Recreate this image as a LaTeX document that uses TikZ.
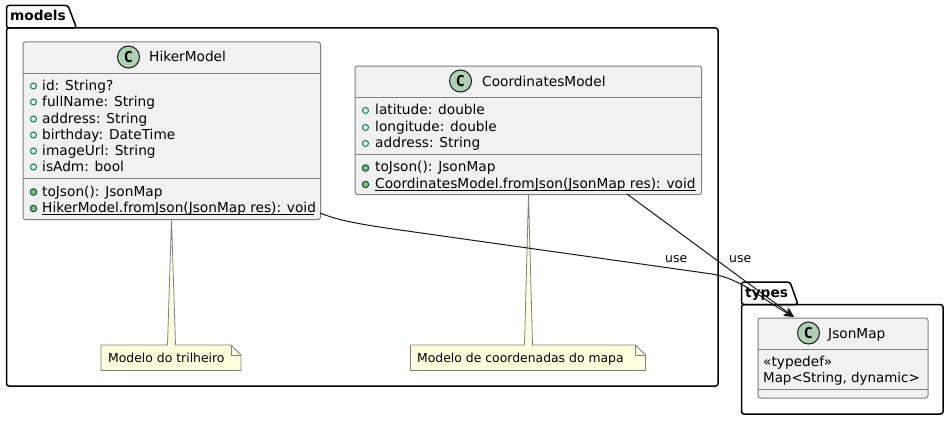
\documentclass[tikz,border=0pt]{standalone}
\usepackage{fontspec}
\setmainfont{DejaVu Sans}
\newfontfamily\spotfont{DejaVu Sans Mono}
\usetikzlibrary{arrows.meta}
\definecolor{boxfill}{HTML}{F1F1F1}
\definecolor{boxline}{HTML}{7F7F7F}
\definecolor{ink}{HTML}{181818}
\definecolor{notefill}{HTML}{FEFFDD}
\definecolor{spotfill}{HTML}{ADD1B2}
\definecolor{fieldc}{HTML}{038048}
\definecolor{methodc}{HTML}{84BE84}
\tikzset{
  x=1pt,y=-1pt,
  pkg/.style={draw=black,line width=1.5pt,rounded corners=2.5pt,line join=round},
  classbox/.style={draw=boxline,fill=boxfill,line width=1pt,rounded corners=2.5pt,inner sep=0pt,anchor=north west},
  sepline/.style={draw=boxline,line width=1pt},
  member/.style={inner sep=0pt,anchor=base west,font=\fontsize{13.7}{16}\selectfont,text=black},
  titletxt/.style={member},
  pkgtxt/.style={inner sep=0pt,anchor=base west,font=\fontsize{13.7}{16}\selectfont\bfseries},
  edgetxt/.style={inner sep=0pt,anchor=base west,font=\fontsize{12.4}{14}\selectfont},
  notetxt/.style={inner sep=0pt,anchor=base west,font=\fontsize{12.4}{14}\selectfont},
  spot/.style={circle,draw=ink,fill=spotfill,line width=1pt,minimum size=22pt,inner sep=0pt,font=\fontsize{15}{15}\selectfont\spotfont\bfseries},
  fieldmark/.style={circle,draw=fieldc,line width=1pt,minimum size=6pt,inner sep=0pt},
  methodmark/.style={circle,draw=fieldc!70!black,fill=methodc,line width=1pt,minimum size=6.5pt,inner sep=0pt},
  notebody/.style={draw=boxline,fill=notefill,line width=.8pt,line join=miter},
  rel/.style={draw=ink,line width=1pt,-{Stealth[length=10pt,width=9pt,inset=3pt]}},
}
\begin{document}
\begin{tikzpicture}
\useasboundingbox (0,0) rectangle (949,420);
\fill[white] (0,0) rectangle (949,420);
% packages
\draw[pkg] (6.5,28) -- (6.5,5.5) -- (68,5.5) -- (76.5,28) -- cycle;
\draw[pkg] (6.5,28) -- (718,28) -- (718,386) -- (6.5,386) -- cycle;
\node[pkgtxt] (pm) at (10,21) {models};
\draw[pkg] (741.5,304.5) -- (741.5,282) -- (790,282) -- (798,304.5) -- cycle;
\draw[pkg] (741.5,304.5) -- (943,304.5) -- (943,414) -- (741.5,414) -- cycle;
\node[pkgtxt] (pt) at (745,297) {types};
% notes
\draw[notebody] (101,345) -- (167.5,345) -- (171.5,219) -- (175.5,345) -- (231,345) -- (241,355) -- (241,370.5) -- (101,370.5) -- cycle;
\draw[notebody,fill=none] (231,345) -- (231,355) -- (241,355);
\node[notetxt] (n1) at (108,362) {Modelo do trilheiro};
\draw[notebody] (410.5,345) -- (524.5,345) -- (528.5,194) -- (532.5,345) -- (635.5,345) -- (645.5,355) -- (645.5,370.5) -- (410.5,370.5) -- cycle;
\draw[notebody,fill=none] (635.5,345) -- (635.5,355) -- (645.5,355);
\node[notetxt] (n2) at (417,362) {Modelo de coordenadas do mapa};
% HikerModel
\node[classbox,minimum width=297.5pt,minimum height=177.5pt] (hiker) at (22.5,41.5) {};
\draw[sepline] (22.5,73.5) -- (320,73.5) (22.5,178.5) -- (320,178.5);
\node[spot] (hc) at (128.5,57) {C};
\node[titletxt] (ht) at (149,62) {HikerModel};
\foreach \nm/\yy/\tx in {a/90/{id: String?},b/106/{fullName: String},c/123/{address: String},d/139/{birthday: DateTime},e/155/{imageUrl: String},f/171/{isAdm: bool}}{
  \node[fieldmark] (hm\nm) at (33.5,\yy-4) {};
  \node[member] (hf\nm) at (42,\yy) {\tx};
}
\node[methodmark] (hmg) at (33.5,192) {};
\node[member] (hfg) at (42,196) {toJson(): JsonMap};
\node[methodmark] (hmh) at (33.5,208.5) {};
\node[member] (hfh) at (42,212) {HikerModel.fromJson(JsonMap res): void};
\draw[black,line width=1pt] (hfh.base west)+(0,2.5) -- ++(272,2.5);
% CoordinatesModel
\node[classbox,minimum width=346.5pt,minimum height=128.5pt] (coord) at (354.5,65.5) {};
\draw[sepline] (354.5,97.5) -- (701,97.5) (354.5,154.5) -- (701,154.5);
\node[spot] (cc) at (460.5,81) {C};
\node[titletxt] (ct) at (482,86) {CoordinatesModel};
\foreach \nm/\yy/\tx in {a/114/{latitude: double},b/131/{longitude: double},c/147/{address: String}}{
  \node[fieldmark] (cm\nm) at (365.5,\yy-3.5) {};
  \node[member] (cf\nm) at (375,\yy) {\tx};
}
\node[methodmark] (cmd) at (365.5,168) {};
\node[member] (cfd) at (375,171) {toJson(): JsonMap};
\node[methodmark] (cme) at (365.5,184.5) {};
\node[member] (cfe) at (375,188) {CoordinatesModel.fromJson(JsonMap res): void};
\draw[black,line width=1pt] (cfe.base west)+(0,2.5) -- ++(321,2.5);
% JsonMap
\node[classbox,minimum width=170pt,minimum height=80pt] (json) at (757.5,317.5) {};
\draw[sepline] (757.5,349.5) -- (927.5,349.5) (757.5,389.5) -- (927.5,389.5);
\node[spot] (jc) at (808.5,333) {C};
\node[titletxt] (jt) at (828,338) {JsonMap};
\node[member] (j1) at (763,366) {«typedef»};
\node[member,font=\fontsize{13.4}{16}\selectfont] (j2) at (763,382) {Map<String, dynamic>};
% connectors
\coordinate (hs) at (320,213);
\coordinate (cs) at (627,194);
\coordinate (jin) at (794,317);
\draw[rel] (hs) .. controls (335,219) and (350,223) .. (400,230) -- (712,274) .. controls (742,279) and (762,299) .. (jin);
\draw[rel] (cs) -- (jin);
\node[edgetxt] (u1) at (665,262) {use};
\node[edgetxt] (u2) at (729,262) {use};
\end{tikzpicture}
\end{document}
